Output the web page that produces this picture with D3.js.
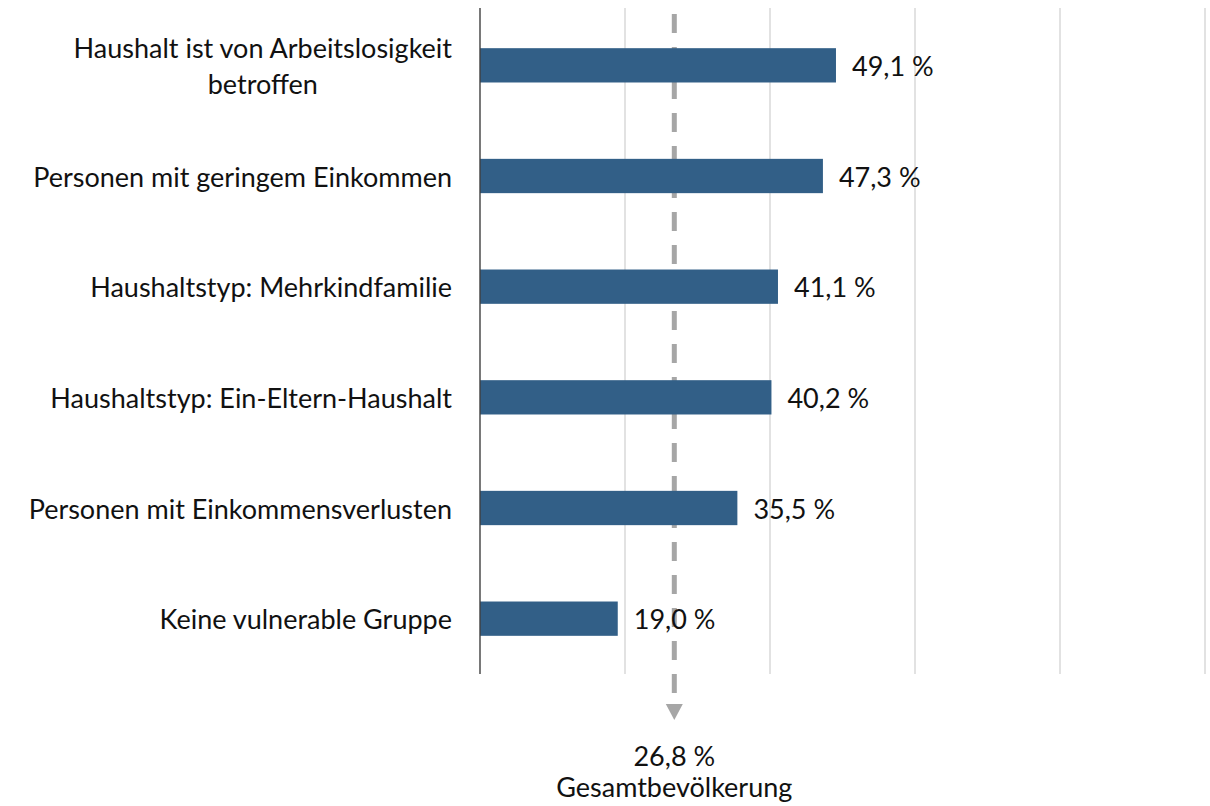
<!DOCTYPE html>
<html lang="de">
<head>
<meta charset="utf-8">
<script src="https://cdn.jsdelivr.net/npm/d3@7"></script>
<style>
  html, body { margin: 0; padding: 0; background: #ffffff; }
  svg { display: block; }
  text { font-family: Lato, "Noto Sans", "DejaVu Sans", sans-serif; fill: #111111; }
</style>
</head>
<body>
<svg id="chart" width="1210" height="806"></svg>
<script>
// Anteil je Gruppe (in %)
const categories = [
  "Haushalt ist von Arbeitslosigkeit\nbetroffen",
  "Personen mit geringem Einkommen",
  "Haushaltstyp: Mehrkindfamilie",
  "Haushaltstyp: Ein-Eltern-Haushalt",
  "Personen mit Einkommensverlusten",
  "Keine vulnerable Gruppe"
];
const values = [49.1, 47.3, 41.1, 40.2, 35.5, 19.0];
const gridTicks = [20, 40, 60, 80, 100];
const referenceValue = 26.8;
const referenceLabel = "Gesamtbevölkerung";

const FONT_SIZE = 27;
const svg = d3.select("#chart");

const x = d3.scaleLinear().domain([0, 100]).range([480, 1205]);
const y = d3.scaleBand()
  .domain(categories)
  .range([10, 674])
  .paddingInner(0.69)
  .paddingOuter(0.345);

const fmt = v => d3.format(".1f")(v).replace(".", ",") + " %";

// vertical gridlines
svg.append("g")
  .selectAll("line")
  .data(gridTicks)
  .join("line")
  .attr("x1", d => x(d)).attr("x2", d => x(d))
  .attr("y1", 8).attr("y2", 674)
  .attr("stroke", "#d9d9d9")
  .attr("stroke-width", 1.5);

// reference line for the total population, ending in an arrow
const rx = x(referenceValue);
const ref = svg.append("g");
ref.append("line")
  .attr("x1", rx).attr("x2", rx)
  .attr("y1", 14).attr("y2", 706)
  .attr("stroke", "#a6a6a6")
  .attr("stroke-width", 5)
  .attr("stroke-dasharray", "19 14");
ref.append("path")
  .attr("d", d3.line()([[rx - 8.5, 704], [rx + 8.5, 704], [rx, 720]]) + "Z")
  .attr("fill", "#a6a6a6");
ref.append("text")
  .attr("x", rx).attr("y", 766)
  .attr("text-anchor", "middle")
  .attr("font-size", FONT_SIZE)
  .text(fmt(referenceValue));
ref.append("text")
  .attr("x", rx).attr("y", 797)
  .attr("text-anchor", "middle")
  .attr("font-size", FONT_SIZE)
  .text(referenceLabel);

// bars
svg.append("g")
  .selectAll("rect")
  .data(categories)
  .join("rect")
  .attr("x", x(0))
  .attr("y", d => y(d))
  .attr("width", (d, i) => x(values[i]) - x(0))
  .attr("height", y.bandwidth())
  .attr("fill", "#325f87");

// value labels
svg.append("g")
  .selectAll("text")
  .data(categories)
  .join("text")
  .attr("x", (d, i) => x(values[i]) + 16)
  .attr("y", d => y(d) + y.bandwidth() / 2)
  .attr("dominant-baseline", "central")
  .attr("font-size", FONT_SIZE)
  .text((d, i) => fmt(values[i]));

// category axis line
svg.append("line")
  .attr("x1", x(0)).attr("x2", x(0))
  .attr("y1", 8).attr("y2", 674)
  .attr("stroke", "#3f3f3f")
  .attr("stroke-width", 1.4);

// category labels: right-aligned block, wrapped lines centred on each other
const labelRight = x(0) - 28;
const lineGap = 36;
const labels = svg.append("g")
  .selectAll("text")
  .data(categories)
  .join("text")
  .attr("font-size", FONT_SIZE)
  .attr("dominant-baseline", "central");

labels.each(function (d) {
  const t = d3.select(this);
  const lines = d.split("\n");
  const cy = y(d) + y.bandwidth() / 2;
  if (lines.length === 1) {
    t.attr("x", labelRight).attr("y", cy).attr("text-anchor", "end").text(d);
    return;
  }
  const spans = lines.map((ln, k) =>
    t.append("tspan")
      .attr("y", cy + (k - (lines.length - 1) / 2) * lineGap)
      .text(ln));
  const maxW = d3.max(spans, s => s.node().getComputedTextLength());
  const cx = labelRight - maxW / 2;
  t.attr("text-anchor", "middle");
  spans.forEach(s => s.attr("x", cx));
});
</script>
</body>
</html>
